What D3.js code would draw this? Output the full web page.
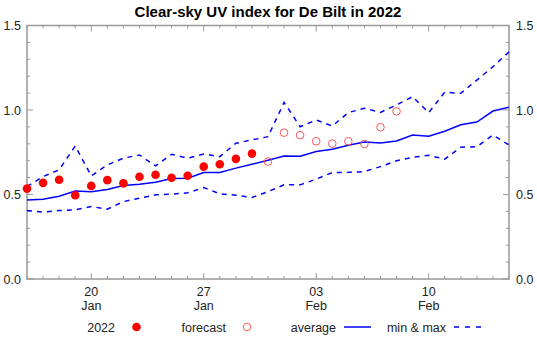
<!DOCTYPE html>
<html><head><meta charset="utf-8">
<script src="https://cdn.jsdelivr.net/npm/d3@7"></script>
<style>
html,body{margin:0;padding:0;background:#fff;}
svg{display:block;font-family:"Liberation Sans",Arial,Helvetica,sans-serif;}
</style></head>
<body><svg id="c" width="537" height="337"></svg>
<script>
// ---- data ----
const days = ["2022-01-16","2022-01-17","2022-01-18","2022-01-19","2022-01-20","2022-01-21","2022-01-22","2022-01-23","2022-01-24","2022-01-25","2022-01-26","2022-01-27","2022-01-28","2022-01-29","2022-01-30","2022-01-31","2022-02-01","2022-02-02","2022-02-03","2022-02-04","2022-02-05","2022-02-06","2022-02-07","2022-02-08","2022-02-09","2022-02-10","2022-02-11","2022-02-12","2022-02-13","2022-02-14","2022-02-15"];
const average = [0.468,0.472,0.490,0.520,0.516,0.530,0.553,0.561,0.573,0.594,0.596,0.630,0.630,0.656,0.679,0.703,0.728,0.727,0.754,0.768,0.791,0.811,0.805,0.817,0.852,0.845,0.874,0.913,0.929,0.994,1.016];
const maxVals = [0.547,0.606,0.646,0.787,0.610,0.675,0.715,0.734,0.669,0.738,0.715,0.740,0.724,0.803,0.823,0.842,1.045,0.901,0.941,0.905,0.985,1.010,0.986,1.030,1.079,0.984,1.105,1.099,1.177,1.256,1.344];
const minVals = [0.405,0.396,0.405,0.409,0.429,0.413,0.458,0.478,0.498,0.502,0.510,0.541,0.504,0.496,0.482,0.517,0.557,0.557,0.591,0.630,0.631,0.636,0.665,0.700,0.720,0.732,0.709,0.780,0.783,0.852,0.793];
const obsDays = ["2022-01-16","2022-01-17","2022-01-18","2022-01-19","2022-01-20","2022-01-21","2022-01-22","2022-01-23","2022-01-24","2022-01-25","2022-01-26","2022-01-27","2022-01-28","2022-01-29","2022-01-30"];
const obsVals = [0.535,0.569,0.587,0.496,0.551,0.585,0.566,0.605,0.617,0.599,0.611,0.665,0.679,0.711,0.742];
const fcDays = ["2022-01-31","2022-02-01","2022-02-02","2022-02-03","2022-02-04","2022-02-05","2022-02-06","2022-02-07","2022-02-08"];
const fcVals = [0.695,0.866,0.851,0.815,0.801,0.815,0.799,0.898,0.992];
const xTickDays = ["2022-01-20","2022-01-27","2022-02-03","2022-02-10"];
const xTickDay = ["20","27","03","10"];
const xTickMonth = ["Jan","Jan","Feb","Feb"];
const yTicks = [0.0,0.5,1.0,1.5];
const legendLabels = ["2022","forecast","average","min & max"];
const title = "Clear-sky UV index for De Bilt in 2022";

// ---- layout ----
const W=537,H=337;
const m={left:27,right:28,top:25.5,bottom:58};
const pw=W-m.left-m.right, ph=H-m.top-m.bottom;
const parse = d3.utcParse("%Y-%m-%d");
const svg=d3.select("#c");
const x=d3.scaleUtc().domain([parse("2022-01-16"),parse("2022-02-15")]).range([m.left,m.left+pw]);
const y=d3.scaleLinear().domain([0,1.5]).range([m.top+ph,m.top]);
const axisCol="#999", textCol="#222";

// title
svg.append("text").attr("x",m.left+pw/2).attr("y",17).attr("text-anchor","middle")
  .attr("font-size",15).attr("font-weight","bold").attr("fill","#000").text(title);

// minor/major ticks
const g=svg.append("g");
const dayTicks=d3.utcDay.range(parse("2022-01-16"),d3.utcDay.offset(parse("2022-02-15"),1));
const majorX=xTickDays.map(parse);
const isMajor=d=>majorX.some(t=>+t===+d);
dayTicks.forEach(d=>{
  const len=isMajor(d)?6:3;
  g.append("line").attr("x1",x(d)).attr("x2",x(d)).attr("y1",y(0)).attr("y2",y(0)-len).attr("stroke",axisCol);
  g.append("line").attr("x1",x(d)).attr("x2",x(d)).attr("y1",y(1.5)).attr("y2",y(1.5)+len).attr("stroke",axisCol);
});
d3.range(0,16).forEach(i=>{
  const v=i/10, len=(i%5===0)?6:3;
  g.append("line").attr("x1",x.range()[0]).attr("x2",x.range()[0]+len).attr("y1",y(v)).attr("y2",y(v)).attr("stroke",axisCol);
  g.append("line").attr("x1",x.range()[1]).attr("x2",x.range()[1]-len).attr("y1",y(v)).attr("y2",y(v)).attr("stroke",axisCol);
});
// frame
svg.append("rect").attr("x",m.left).attr("y",m.top).attr("width",pw).attr("height",ph)
  .attr("fill","none").attr("stroke",axisCol).attr("stroke-width",1.5);

// y labels
yTicks.forEach(v=>{
  svg.append("text").attr("x",m.left-6).attr("y",y(v)+4.5).attr("text-anchor","end").attr("font-size",12.5).attr("fill",textCol).text(v.toFixed(1));
  svg.append("text").attr("x",m.left+pw+7).attr("y",y(v)+4.5).attr("text-anchor","start").attr("font-size",12.5).attr("fill",textCol).text(v.toFixed(1));
});
// x labels
xTickDays.forEach((d,i)=>{
  const xx=x(parse(d));
  svg.append("text").attr("x",xx).attr("y",y(0)+17).attr("text-anchor","middle").attr("font-size",12.5).attr("fill",textCol).text(xTickDay[i]);
  svg.append("text").attr("x",xx).attr("y",y(0)+31).attr("text-anchor","middle").attr("font-size",12.5).attr("fill",textCol).text(xTickMonth[i]);
});

// lines
const line=d3.line().x(d=>x(parse(d[0]))).y(d=>y(d[1]));
const blue="#0000ff";
svg.append("path").datum(days.map((d,i)=>[d,maxVals[i]])).attr("d",line).attr("fill","none").attr("stroke",blue).attr("stroke-width",1.5).attr("stroke-dasharray","5,5");
svg.append("path").datum(days.map((d,i)=>[d,minVals[i]])).attr("d",line).attr("fill","none").attr("stroke",blue).attr("stroke-width",1.5).attr("stroke-dasharray","5,5");
svg.append("path").datum(days.map((d,i)=>[d,average[i]])).attr("d",line).attr("fill","none").attr("stroke",blue).attr("stroke-width",1.5);

// points
svg.append("g").selectAll("circle").data(fcDays.map((d,i)=>[d,fcVals[i]])).join("circle")
  .attr("cx",d=>x(parse(d[0]))).attr("cy",d=>y(d[1])).attr("r",3.8).attr("fill","none").attr("stroke","#ff5555").attr("stroke-width",1);
svg.append("g").selectAll("circle").data(obsDays.map((d,i)=>[d,obsVals[i]])).join("circle")
  .attr("cx",d=>x(parse(d[0]))).attr("cy",d=>y(d[1])).attr("r",4.3).attr("fill","#ff0000");

// legend
const ly=327;
const lg=svg.append("g").attr("font-size",12.5).attr("fill",textCol);
lg.append("text").attr("x",115).attr("y",ly+4.5).attr("text-anchor","end").attr("fill",textCol).text(legendLabels[0]);
lg.append("circle").attr("cx",136.5).attr("cy",ly).attr("r",4.3).attr("fill","#ff0000");
lg.append("text").attr("x",226).attr("y",ly+4.5).attr("text-anchor","end").attr("fill",textCol).text(legendLabels[1]);
lg.append("circle").attr("cx",247).attr("cy",ly).attr("r",3.8).attr("fill","none").attr("stroke","#ff5555");
lg.append("text").attr("x",336).attr("y",ly+4.5).attr("text-anchor","end").attr("fill",textCol).text(legendLabels[2]);
lg.append("line").attr("x1",344).attr("x2",371).attr("y1",ly).attr("y2",ly).attr("stroke",blue).attr("stroke-width",1.5);
lg.append("text").attr("x",446).attr("y",ly+4.5).attr("text-anchor","end").attr("fill",textCol).text(legendLabels[3]);
lg.append("line").attr("x1",454).attr("x2",481).attr("y1",ly).attr("y2",ly).attr("stroke",blue).attr("stroke-width",1.5).attr("stroke-dasharray","5,6");
</script></body></html>
